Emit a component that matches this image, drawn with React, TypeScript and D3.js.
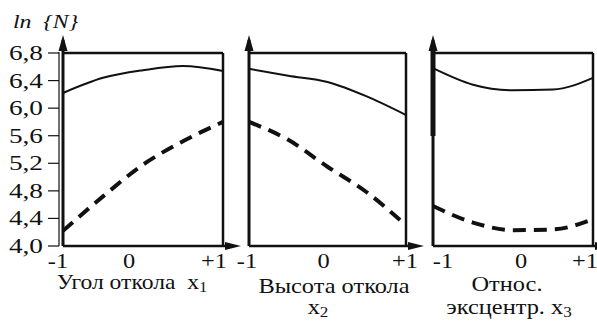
import React from 'react';
import * as d3 from 'd3';

// x positions of the factor levels (coded units)
const levels = [-1, -0.5, 0, 0.5, 1];
const xTickValues = [-1, 0, 1];
const xTickLabels = ['-1', '0', '+1'];

const yTicks = [4.0, 4.4, 4.8, 5.2, 5.6, 6.0, 6.4, 6.8];
const yTickLabels = ['4,0', '4,4', '4,8', '5,2', '5,6', '6,0', '6,4', '6,8'];

// ln{N}, solid curve (upper) and dashed curve (lower) for each factor
const solidX1 = [6.22, 6.44, 6.55, 6.61, 6.54];
const dashedX1 = [4.22, 4.72, 5.18, 5.52, 5.8];
const solidX2 = [6.57, 6.47, 6.38, 6.17, 5.9];
const dashedX2 = [5.8, 5.54, 5.15, 4.78, 4.3];
const solidX3 = [6.58, 6.34, 6.26, 6.27, 6.44];
const dashedX3 = [4.58, 4.34, 4.23, 4.24, 4.39];

const W = 597;
const H = 322;
const top = 53;
const bottom = 246;
const font = "'Liberation Serif', 'Times New Roman', serif";
const ink = '#111';

const panels = [
  { left: 63, right: 223, solid: solidX1, dashed: dashedX1, tickDx: [-5, -14, -9], thick: false },
  { left: 249, right: 406, solid: solidX2, dashed: dashedX2, tickDx: [-2, -4, -1], thick: false },
  { left: 433, right: 593, solid: solidX3, dashed: dashedX3, tickDx: [10, 8, -8], thick: true },
];

function SText({ x, y, anchor = 'middle', size = 20, sx = 1.22, italic = false, children }: any) {
  return (
    <text
      transform={`translate(${x},${y}) scale(${sx},1)`}
      textAnchor={anchor}
      style={{ fontFamily: font, fontSize: size, fontStyle: italic ? 'italic' : 'normal' }}
      fill={ink}
    >
      {children}
    </text>
  );
}

function Panel({ p }: any) {
  const x = d3.scaleLinear().domain([-1, 1]).range([p.left, p.right]);
  const y = d3.scaleLinear().domain([4.0, 6.8]).range([bottom, top]);
  const line = d3
    .line<number>()
    .x((_, i) => x(levels[i]))
    .y((d) => y(d))
    .curve(d3.curveMonotoneX);

  return (
    <g>
      {/* box */}
      <line x1={p.left} x2={p.right} y1={top} y2={top} stroke={ink} strokeWidth={2.5} />
      <line x1={p.right} x2={p.right} y1={top} y2={bottom} stroke={ink} strokeWidth={2.5} />
      <line x1={p.left} x2={p.right + 6} y1={bottom} y2={bottom} stroke={ink} strokeWidth={2.5} />
      <line x1={p.left} x2={p.left} y1={40} y2={bottom} stroke={ink} strokeWidth={3} />
      {p.thick && <line x1={p.left} x2={p.left} y1={45} y2={136} stroke={ink} strokeWidth={5} />}
      {/* arrows */}
      <path d={`M${p.left},35 L${p.left - 4.5},51 L${p.left + 4.5},51 Z`} fill={ink} />
      <path d={`M${p.right + 18},${bottom} L${p.right + 2},${bottom - 4} L${p.right + 2},${bottom + 4} Z`} fill={ink} />
      {/* curves */}
      <path d={line(p.solid) || ''} fill="none" stroke={ink} strokeWidth={2} />
      <path d={line(p.dashed) || ''} fill="none" stroke={ink} strokeWidth={4} strokeDasharray="13,8" />
      {/* x tick labels */}
      {xTickValues.map((v, i) => (
        <SText key={v} x={x(v) + p.tickDx[i]} y={268}>
          {xTickLabels[i]}
        </SText>
      ))}
    </g>
  );
}

export default function App() {
  const y = d3.scaleLinear().domain([4.0, 6.8]).range([bottom, top]);
  return (
    <svg width={W} height={H} style={{ position: 'absolute', left: 0, top: 0, background: '#fff' }}>
      <rect width={W} height={H} fill="#fff" />
      {/* y axis of the first panel */}
      <line x1={59} x2={59} y1={y(6.8) - 1} y2={bottom} stroke={ink} strokeWidth={1.2} />
      {yTicks.map((t, i) => (
        <g key={t}>
          <line x1={48} x2={59} y1={y(t)} y2={y(t)} stroke={ink} strokeWidth={1.2} />
          <SText x={43} y={y(t) + 7} anchor="end" size={21} sx={1.3}>
            {yTickLabels[i]}
          </SText>
        </g>
      ))}
      <SText x={13} y={28} anchor="start" size={19} sx={1.25} italic>
        ln{'\u00a0\u00a0'}{'{N}'}
      </SText>
      {panels.map((p, i) => (
        <Panel key={i} p={p} />
      ))}
      {/* factor names */}
      <SText x={132} y={289} sx={1.18}>
        Угол откола{'\u00a0\u00a0'}x<tspan style={{ fontSize: 14 }} dy={3}>1</tspan>
      </SText>
      <SText x={334} y={293}>Высота откола</SText>
      <SText x={318} y={314}>
        x<tspan style={{ fontSize: 14 }} dy={3}>2</tspan>
      </SText>
      <SText x={507} y={291}>Относ.</SText>
      <SText x={509} y={314}>
        эксцентр. x<tspan style={{ fontSize: 14 }} dy={3}>3</tspan>
      </SText>
    </svg>
  );
}
